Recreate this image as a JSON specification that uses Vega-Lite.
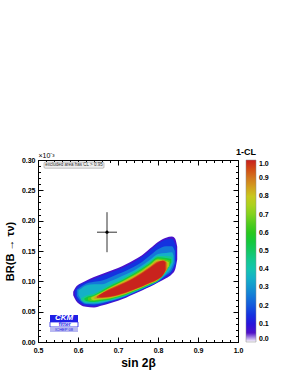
{
  "$schema": "https://vega.github.io/schema/vega-lite/v6.json",
  "width": 200,
  "height": 182,
  "autosize": "none",
  "padding": {"left": 38, "top": 160, "right": 62, "bottom": 34},
  "background": "white",
  "config": {
    "view": {"stroke": "black", "strokeWidth": 1},
    "font": "Liberation Sans",
    "axis": {"grid": false, "labelFont": "Liberation Sans", "titleFont": "Liberation Sans", "tickColor": "black", "domainColor": "black", "labelColor": "black", "titleColor": "black", "labelFlush": false, "labelOverlap": false}
  },
  "datasets": {
    "contours": [
      {"cl": 0.06, "x": 0.588, "lo": 0.077, "hi": 0.083},
      {"cl": 0.06, "x": 0.595, "lo": 0.068, "hi": 0.091},
      {"cl": 0.06, "x": 0.605, "lo": 0.062, "hi": 0.096},
      {"cl": 0.06, "x": 0.62, "lo": 0.058, "hi": 0.101},
      {"cl": 0.06, "x": 0.64, "lo": 0.057, "hi": 0.107},
      {"cl": 0.06, "x": 0.66, "lo": 0.060, "hi": 0.112},
      {"cl": 0.06, "x": 0.68, "lo": 0.064, "hi": 0.117},
      {"cl": 0.06, "x": 0.70, "lo": 0.068, "hi": 0.122},
      {"cl": 0.06, "x": 0.72, "lo": 0.073, "hi": 0.128},
      {"cl": 0.06, "x": 0.74, "lo": 0.079, "hi": 0.135},
      {"cl": 0.06, "x": 0.76, "lo": 0.085, "hi": 0.143},
      {"cl": 0.06, "x": 0.78, "lo": 0.091, "hi": 0.154},
      {"cl": 0.06, "x": 0.80, "lo": 0.098, "hi": 0.165},
      {"cl": 0.06, "x": 0.82, "lo": 0.105, "hi": 0.172},
      {"cl": 0.06, "x": 0.835, "lo": 0.112, "hi": 0.174},
      {"cl": 0.06, "x": 0.843, "lo": 0.120, "hi": 0.170},
      {"cl": 0.06, "x": 0.848, "lo": 0.136, "hi": 0.157},

      {"cl": 0.15, "x": 0.592, "lo": 0.077, "hi": 0.084},
      {"cl": 0.15, "x": 0.60, "lo": 0.067, "hi": 0.092},
      {"cl": 0.15, "x": 0.61, "lo": 0.063, "hi": 0.096},
      {"cl": 0.15, "x": 0.62, "lo": 0.060, "hi": 0.099},
      {"cl": 0.15, "x": 0.64, "lo": 0.0595, "hi": 0.104},
      {"cl": 0.15, "x": 0.66, "lo": 0.062, "hi": 0.109},
      {"cl": 0.15, "x": 0.68, "lo": 0.0657, "hi": 0.114},
      {"cl": 0.15, "x": 0.70, "lo": 0.0695, "hi": 0.119},
      {"cl": 0.15, "x": 0.72, "lo": 0.0744, "hi": 0.125},
      {"cl": 0.15, "x": 0.74, "lo": 0.0802, "hi": 0.132},
      {"cl": 0.15, "x": 0.76, "lo": 0.0861, "hi": 0.140},
      {"cl": 0.15, "x": 0.78, "lo": 0.0921, "hi": 0.151},
      {"cl": 0.15, "x": 0.80, "lo": 0.0989, "hi": 0.162},
      {"cl": 0.15, "x": 0.82, "lo": 0.1075, "hi": 0.169},
      {"cl": 0.15, "x": 0.835, "lo": 0.115, "hi": 0.170},
      {"cl": 0.15, "x": 0.845, "lo": 0.128, "hi": 0.158},

      {"cl": 0.25, "x": 0.597, "lo": 0.076, "hi": 0.086},
      {"cl": 0.25, "x": 0.605, "lo": 0.069, "hi": 0.090},
      {"cl": 0.25, "x": 0.62, "lo": 0.0625, "hi": 0.096},
      {"cl": 0.25, "x": 0.64, "lo": 0.062, "hi": 0.0995},
      {"cl": 0.25, "x": 0.66, "lo": 0.0639, "hi": 0.1015},
      {"cl": 0.25, "x": 0.68, "lo": 0.0671, "hi": 0.1065},
      {"cl": 0.25, "x": 0.70, "lo": 0.0708, "hi": 0.112},
      {"cl": 0.25, "x": 0.72, "lo": 0.0755, "hi": 0.1175},
      {"cl": 0.25, "x": 0.74, "lo": 0.0812, "hi": 0.124},
      {"cl": 0.25, "x": 0.76, "lo": 0.087, "hi": 0.132},
      {"cl": 0.25, "x": 0.78, "lo": 0.093, "hi": 0.1425},
      {"cl": 0.25, "x": 0.80, "lo": 0.0997, "hi": 0.153},
      {"cl": 0.25, "x": 0.82, "lo": 0.110, "hi": 0.158},
      {"cl": 0.25, "x": 0.835, "lo": 0.119, "hi": 0.158},
      {"cl": 0.25, "x": 0.842, "lo": 0.130, "hi": 0.150},

      {"cl": 0.35, "x": 0.601, "lo": 0.078, "hi": 0.085},
      {"cl": 0.35, "x": 0.61, "lo": 0.068, "hi": 0.089},
      {"cl": 0.35, "x": 0.62, "lo": 0.064, "hi": 0.093},
      {"cl": 0.35, "x": 0.64, "lo": 0.0635, "hi": 0.095},
      {"cl": 0.35, "x": 0.66, "lo": 0.0653, "hi": 0.095},
      {"cl": 0.35, "x": 0.68, "lo": 0.0682, "hi": 0.100},
      {"cl": 0.35, "x": 0.70, "lo": 0.0718, "hi": 0.1055},
      {"cl": 0.35, "x": 0.72, "lo": 0.0764, "hi": 0.1115},
      {"cl": 0.35, "x": 0.74, "lo": 0.082, "hi": 0.118},
      {"cl": 0.35, "x": 0.76, "lo": 0.0877, "hi": 0.126},
      {"cl": 0.35, "x": 0.78, "lo": 0.0937, "hi": 0.1355},
      {"cl": 0.35, "x": 0.80, "lo": 0.1003, "hi": 0.145},
      {"cl": 0.35, "x": 0.82, "lo": 0.112, "hi": 0.1465},
      {"cl": 0.35, "x": 0.835, "lo": 0.125, "hi": 0.148},
      {"cl": 0.35, "x": 0.839, "lo": 0.132, "hi": 0.142},

      {"cl": 0.45, "x": 0.608, "lo": 0.069, "hi": 0.072},
      {"cl": 0.45, "x": 0.62, "lo": 0.0655, "hi": 0.0765},
      {"cl": 0.45, "x": 0.64, "lo": 0.065, "hi": 0.080},
      {"cl": 0.45, "x": 0.66, "lo": 0.0666, "hi": 0.087},
      {"cl": 0.45, "x": 0.68, "lo": 0.0692, "hi": 0.0945},
      {"cl": 0.45, "x": 0.70, "lo": 0.0727, "hi": 0.1005},
      {"cl": 0.45, "x": 0.72, "lo": 0.0772, "hi": 0.1075},
      {"cl": 0.45, "x": 0.74, "lo": 0.0828, "hi": 0.1152},
      {"cl": 0.45, "x": 0.76, "lo": 0.0883, "hi": 0.1232},
      {"cl": 0.45, "x": 0.78, "lo": 0.0943, "hi": 0.1325},
      {"cl": 0.45, "x": 0.80, "lo": 0.1008, "hi": 0.1419},
      {"cl": 0.45, "x": 0.82, "lo": 0.1145, "hi": 0.1418},
      {"cl": 0.45, "x": 0.836, "lo": 0.132, "hi": 0.140},

      {"cl": 0.55, "x": 0.616, "lo": 0.0695, "hi": 0.0715},
      {"cl": 0.55, "x": 0.62, "lo": 0.0675, "hi": 0.0735},
      {"cl": 0.55, "x": 0.64, "lo": 0.066, "hi": 0.0775},
      {"cl": 0.55, "x": 0.66, "lo": 0.0678, "hi": 0.085},
      {"cl": 0.55, "x": 0.68, "lo": 0.0702, "hi": 0.0925},
      {"cl": 0.55, "x": 0.70, "lo": 0.0736, "hi": 0.0985},
      {"cl": 0.55, "x": 0.72, "lo": 0.078, "hi": 0.1055},
      {"cl": 0.55, "x": 0.74, "lo": 0.0835, "hi": 0.1131},
      {"cl": 0.55, "x": 0.76, "lo": 0.0889, "hi": 0.1211},
      {"cl": 0.55, "x": 0.78, "lo": 0.0949, "hi": 0.1304},
      {"cl": 0.55, "x": 0.80, "lo": 0.1014, "hi": 0.1397},
      {"cl": 0.55, "x": 0.82, "lo": 0.117, "hi": 0.1386},
      {"cl": 0.55, "x": 0.833, "lo": 0.131, "hi": 0.137},

      {"cl": 0.65, "x": 0.625, "lo": 0.069, "hi": 0.073},
      {"cl": 0.65, "x": 0.64, "lo": 0.0675, "hi": 0.0765},
      {"cl": 0.65, "x": 0.66, "lo": 0.0691, "hi": 0.083},
      {"cl": 0.65, "x": 0.68, "lo": 0.0712, "hi": 0.0905},
      {"cl": 0.65, "x": 0.70, "lo": 0.0745, "hi": 0.097},
      {"cl": 0.65, "x": 0.72, "lo": 0.0789, "hi": 0.104},
      {"cl": 0.65, "x": 0.74, "lo": 0.0842, "hi": 0.1114},
      {"cl": 0.65, "x": 0.76, "lo": 0.0896, "hi": 0.1194},
      {"cl": 0.65, "x": 0.78, "lo": 0.0956, "hi": 0.1286},
      {"cl": 0.65, "x": 0.80, "lo": 0.1019, "hi": 0.1378},
      {"cl": 0.65, "x": 0.82, "lo": 0.119, "hi": 0.1359},
      {"cl": 0.65, "x": 0.83, "lo": 0.127, "hi": 0.134},

      {"cl": 0.75, "x": 0.633, "lo": 0.0705, "hi": 0.0735},
      {"cl": 0.75, "x": 0.64, "lo": 0.069, "hi": 0.0755},
      {"cl": 0.75, "x": 0.66, "lo": 0.0704, "hi": 0.082},
      {"cl": 0.75, "x": 0.68, "lo": 0.0721, "hi": 0.0895},
      {"cl": 0.75, "x": 0.70, "lo": 0.0754, "hi": 0.096},
      {"cl": 0.75, "x": 0.72, "lo": 0.0797, "hi": 0.1028},
      {"cl": 0.75, "x": 0.74, "lo": 0.0849, "hi": 0.1096},
      {"cl": 0.75, "x": 0.76, "lo": 0.0902, "hi": 0.1176},
      {"cl": 0.75, "x": 0.78, "lo": 0.0962, "hi": 0.1268},
      {"cl": 0.75, "x": 0.80, "lo": 0.1024, "hi": 0.136},
      {"cl": 0.75, "x": 0.82, "lo": 0.121, "hi": 0.1332},
      {"cl": 0.75, "x": 0.827, "lo": 0.124, "hi": 0.132},

      {"cl": 0.85, "x": 0.641, "lo": 0.071, "hi": 0.074},
      {"cl": 0.85, "x": 0.66, "lo": 0.0715, "hi": 0.081},
      {"cl": 0.85, "x": 0.68, "lo": 0.073, "hi": 0.0885},
      {"cl": 0.85, "x": 0.70, "lo": 0.0762, "hi": 0.095},
      {"cl": 0.85, "x": 0.72, "lo": 0.0804, "hi": 0.1013},
      {"cl": 0.85, "x": 0.74, "lo": 0.0856, "hi": 0.1082},
      {"cl": 0.85, "x": 0.76, "lo": 0.0907, "hi": 0.1162},
      {"cl": 0.85, "x": 0.78, "lo": 0.0967, "hi": 0.1253},
      {"cl": 0.85, "x": 0.80, "lo": 0.1029, "hi": 0.1344},
      {"cl": 0.85, "x": 0.815, "lo": 0.112, "hi": 0.1345},
      {"cl": 0.85, "x": 0.824, "lo": 0.121, "hi": 0.130},

      {"cl": 0.95, "x": 0.647, "lo": 0.0725, "hi": 0.0755},
      {"cl": 0.95, "x": 0.66, "lo": 0.0727, "hi": 0.0805},
      {"cl": 0.95, "x": 0.68, "lo": 0.074, "hi": 0.0876},
      {"cl": 0.95, "x": 0.70, "lo": 0.0771, "hi": 0.0935},
      {"cl": 0.95, "x": 0.72, "lo": 0.0812, "hi": 0.0995},
      {"cl": 0.95, "x": 0.74, "lo": 0.0863, "hi": 0.1065},
      {"cl": 0.95, "x": 0.76, "lo": 0.0914, "hi": 0.1145},
      {"cl": 0.95, "x": 0.78, "lo": 0.0974, "hi": 0.1235},
      {"cl": 0.95, "x": 0.80, "lo": 0.1035, "hi": 0.1325},
      {"cl": 0.95, "x": 0.815, "lo": 0.113, "hi": 0.1345},
      {"cl": 0.95, "x": 0.821, "lo": 0.120, "hi": 0.131},

      {"cl": 0.995, "x": 0.652, "lo": 0.075, "hi": 0.0765},
      {"cl": 0.995, "x": 0.66, "lo": 0.074, "hi": 0.080},
      {"cl": 0.995, "x": 0.68, "lo": 0.075, "hi": 0.086},
      {"cl": 0.995, "x": 0.70, "lo": 0.078, "hi": 0.092},
      {"cl": 0.995, "x": 0.72, "lo": 0.082, "hi": 0.098},
      {"cl": 0.995, "x": 0.74, "lo": 0.087, "hi": 0.105},
      {"cl": 0.995, "x": 0.76, "lo": 0.092, "hi": 0.113},
      {"cl": 0.995, "x": 0.78, "lo": 0.098, "hi": 0.122},
      {"cl": 0.995, "x": 0.80, "lo": 0.104, "hi": 0.131},
      {"cl": 0.995, "x": 0.812, "lo": 0.110, "hi": 0.134},
      {"cl": 0.995, "x": 0.818, "lo": 0.118, "hi": 0.131}
    ],
    "pt": [{"x": 0.6725, "y": 0.181, "xlo": 0.6475, "xhi": 0.6975, "ylo": 0.148, "yhi": 0.214}],
    "note": [{"x1": 0.515, "x2": 0.665, "y1": 0.2865, "y2": 0.2965, "xc": 0.59, "yc": 0.2915, "txt": "excluded area has CL > 0.95"}],
    "logo": [
      {"part": "CKM", "x1": 0.53, "x2": 0.6, "y1": 0.033, "y2": 0.0445, "xc": 0.565, "yc": 0.0388},
      {"part": "fitter", "x1": 0.53, "x2": 0.6, "y1": 0.0247, "y2": 0.033, "xc": 0.567, "yc": 0.0289},
      {"part": "ICHEP 08", "x1": 0.53, "x2": 0.6, "y1": 0.0165, "y2": 0.0247, "xc": 0.565, "yc": 0.0206}
    ]
  },
  "layer": [
    {
      "data": {"name": "contours"},
      "mark": {"type": "area", "interpolate": "monotone"},
      "encoding": {
        "x": {"field": "x", "type": "quantitative", "scale": {"domain": [0.5, 1.0], "nice": false, "zero": false},
          "axis": {"orient": "bottom", "values": [0.5, 0.6, 0.7, 0.8, 0.9, 1.0], "format": ".1f", "tickSize": -5, "labelPadding": 9, "labelFontSize": 7, "labelFontWeight": "bold", "title": "sin 2β", "titleFontSize": 12, "titleFontWeight": "bold", "titlePadding": 4}},
        "y": {"field": "lo", "type": "quantitative", "stack": null, "scale": {"domain": [0, 0.3], "nice": false, "zero": false},
          "axis": {"orient": "left", "values": [0, 0.05, 0.1, 0.15, 0.2, 0.25, 0.3], "format": ".2f", "tickSize": -5, "labelPadding": 8, "labelFontSize": 7, "labelFontWeight": "bold", "title": "BR(B → τν)", "titleFontSize": 11, "titleFontWeight": "bold", "titlePadding": 6}},
        "y2": {"field": "hi"},
        "color": {"field": "cl", "type": "quantitative",
          "scale": {"domain": [0, 0.0499, 0.05, 0.1, 0.15, 0.2, 0.25, 0.3, 0.35, 0.4, 0.45, 0.5, 0.55, 0.6, 0.65, 0.7, 0.75, 0.8, 0.85, 0.9, 0.95, 1.0],
            "range": ["#ffffff", "#ffffff", "#5010c8", "#2814dc", "#1432e0", "#1458dc", "#1478d8", "#1496d0", "#14b0c8", "#14c4b0", "#14c890", "#14c864", "#14c83c", "#28c81e", "#50cc1e", "#82d21e", "#aad21e", "#c8c81e", "#d2a01e", "#d2781e", "#d24b14", "#c81e1e"],
            "interpolate": "rgb"},
          "legend": {"orient": "none", "legendX": 198, "legendY": -12, "padding": 0, "direction": "vertical", "title": "1-CL", "titleFontSize": 9, "titleFontWeight": "bold", "titleAlign": "center", "titleAnchor": "start", "titlePadding": 3, "gradientLength": 182, "gradientThickness": 10, "values": [0, 0.1, 0.2, 0.3, 0.4, 0.5, 0.6, 0.7, 0.8, 0.9, 1.0], "format": ".1f", "labelFontSize": 7, "labelFontWeight": "bold", "labelOffset": 3, "labelBaseline": "middle", "labelOverlap": false, "gradientStrokeColor": "#888888", "gradientStrokeWidth": 0.5, "labelColor": "black", "titleColor": "black"}}
      }
    },
    {
      "data": {"name": "pt"},
      "mark": {"type": "rule", "color": "#333333", "strokeWidth": 1},
      "encoding": {
        "x": {"field": "x", "type": "quantitative", "scale": {"domain": [0.5, 1.0], "nice": false, "zero": false},
          "axis": {"orient": "bottom", "values": [0.52, 0.54, 0.56, 0.58, 0.62, 0.64, 0.66, 0.68, 0.72, 0.74, 0.76, 0.78, 0.82, 0.84, 0.86, 0.88, 0.92, 0.94, 0.96, 0.98], "tickSize": -2.5, "labels": false, "domain": false, "title": null}},
        "y": {"field": "ylo", "type": "quantitative", "scale": {"domain": [0, 0.3], "nice": false, "zero": false},
          "axis": {"orient": "left", "values": [0.01, 0.02, 0.03, 0.04, 0.06, 0.07, 0.08, 0.09, 0.11, 0.12, 0.13, 0.14, 0.16, 0.17, 0.18, 0.19, 0.21, 0.22, 0.23, 0.24, 0.26, 0.27, 0.28, 0.29], "tickSize": -2.5, "labels": false, "domain": false, "title": null}},
        "y2": {"field": "yhi"}
      }
    },
    {
      "data": {"name": "pt"},
      "mark": {"type": "rule", "color": "#333333", "strokeWidth": 1},
      "encoding": {
        "x": {"field": "xlo", "type": "quantitative", "scale": {"domain": [0.5, 1.0], "nice": false, "zero": false},
          "axis": {"orient": "top", "values": [0.5, 0.6, 0.7, 0.8, 0.9, 1.0], "tickSize": -5, "labels": false, "domain": false, "title": "×10⁻³", "titleAnchor": "start", "titleFontSize": 7, "titleFontWeight": "normal", "titlePadding": 1}},
        "x2": {"field": "xhi"},
        "y": {"field": "y", "type": "quantitative", "scale": {"domain": [0, 0.3], "nice": false, "zero": false},
          "axis": {"orient": "right", "values": [0, 0.05, 0.1, 0.15, 0.2, 0.25, 0.3], "tickSize": -5, "labels": false, "domain": false, "title": null}}
      }
    },
    {
      "data": {"name": "pt"},
      "mark": {"type": "point", "filled": true, "color": "black", "size": 10, "opacity": 1},
      "encoding": {
        "x": {"field": "x", "type": "quantitative", "scale": {"domain": [0.5, 1.0], "nice": false, "zero": false},
          "axis": {"orient": "top", "values": [0.52, 0.54, 0.56, 0.58, 0.62, 0.64, 0.66, 0.68, 0.72, 0.74, 0.76, 0.78, 0.82, 0.84, 0.86, 0.88, 0.92, 0.94, 0.96, 0.98], "tickSize": -2.5, "labels": false, "domain": false, "title": null}},
        "y": {"field": "y", "type": "quantitative", "scale": {"domain": [0, 0.3], "nice": false, "zero": false},
          "axis": {"orient": "right", "values": [0.01, 0.02, 0.03, 0.04, 0.06, 0.07, 0.08, 0.09, 0.11, 0.12, 0.13, 0.14, 0.16, 0.17, 0.18, 0.19, 0.21, 0.22, 0.23, 0.24, 0.26, 0.27, 0.28, 0.29], "tickSize": -2.5, "labels": false, "domain": false, "title": null}}
      }
    },
    {
      "data": {"name": "note"},
      "mark": {"type": "rect", "fill": "#eeeeee", "stroke": "#888888", "strokeWidth": 0.5, "cornerRadius": 1},
      "encoding": {
        "x": {"field": "x1", "type": "quantitative", "axis": null},
        "x2": {"field": "x2"},
        "y": {"field": "y1", "type": "quantitative", "axis": null},
        "y2": {"field": "y2"}
      }
    },
    {
      "data": {"name": "note"},
      "mark": {"type": "text", "fontSize": 4.5, "color": "#333333", "align": "center", "baseline": "middle"},
      "encoding": {
        "x": {"field": "xc", "type": "quantitative", "axis": null},
        "y": {"field": "yc", "type": "quantitative", "axis": null},
        "text": {"field": "txt"}
      }
    },
    {
      "data": {"name": "logo"},
      "transform": [{"filter": "datum.part == 'CKM'"}],
      "mark": {"type": "rect", "fill": "#1f1fe6"},
      "encoding": {
        "x": {"field": "x1", "type": "quantitative", "axis": null},
        "x2": {"field": "x2"},
        "y": {"field": "y1", "type": "quantitative", "axis": null},
        "y2": {"field": "y2"}
      }
    },
    {
      "data": {"name": "logo"},
      "transform": [{"filter": "datum.part == 'fitter'"}],
      "mark": {"type": "rect", "fill": "white", "stroke": "#1f1fe6", "strokeWidth": 0.8},
      "encoding": {
        "x": {"field": "x1", "type": "quantitative", "axis": null},
        "x2": {"field": "x2"},
        "y": {"field": "y1", "type": "quantitative", "axis": null},
        "y2": {"field": "y2"}
      }
    },
    {
      "data": {"name": "logo"},
      "transform": [{"filter": "datum.part == 'ICHEP 08'"}],
      "mark": {"type": "rect", "fill": "#b8b8f0"},
      "encoding": {
        "x": {"field": "x1", "type": "quantitative", "axis": null},
        "x2": {"field": "x2"},
        "y": {"field": "y1", "type": "quantitative", "axis": null},
        "y2": {"field": "y2"}
      }
    },
    {
      "data": {"name": "logo"},
      "transform": [{"filter": "datum.part == 'CKM'"}],
      "mark": {"type": "text", "fontSize": 8, "fontWeight": "bold", "fontStyle": "italic", "color": "white", "align": "center", "baseline": "middle"},
      "encoding": {
        "x": {"field": "xc", "type": "quantitative", "axis": null},
        "y": {"field": "yc", "type": "quantitative", "axis": null},
        "text": {"field": "part"}
      }
    },
    {
      "data": {"name": "logo"},
      "transform": [{"filter": "datum.part == 'fitter'"}],
      "mark": {"type": "text", "fontSize": 5.5, "fontWeight": "bold", "color": "#1f1fe6", "align": "center", "baseline": "middle"},
      "encoding": {
        "x": {"field": "xc", "type": "quantitative", "axis": null},
        "y": {"field": "yc", "type": "quantitative", "axis": null},
        "text": {"field": "part"}
      }
    },
    {
      "data": {"name": "logo"},
      "transform": [{"filter": "datum.part == 'ICHEP 08'"}],
      "mark": {"type": "text", "fontSize": 4, "color": "#1f1fe6", "align": "center", "baseline": "middle"},
      "encoding": {
        "x": {"field": "xc", "type": "quantitative", "axis": null},
        "y": {"field": "yc", "type": "quantitative", "axis": null},
        "text": {"field": "part"}
      }
    }
  ],
  "resolve": {"axis": {"x": "independent", "y": "independent"}}
}
